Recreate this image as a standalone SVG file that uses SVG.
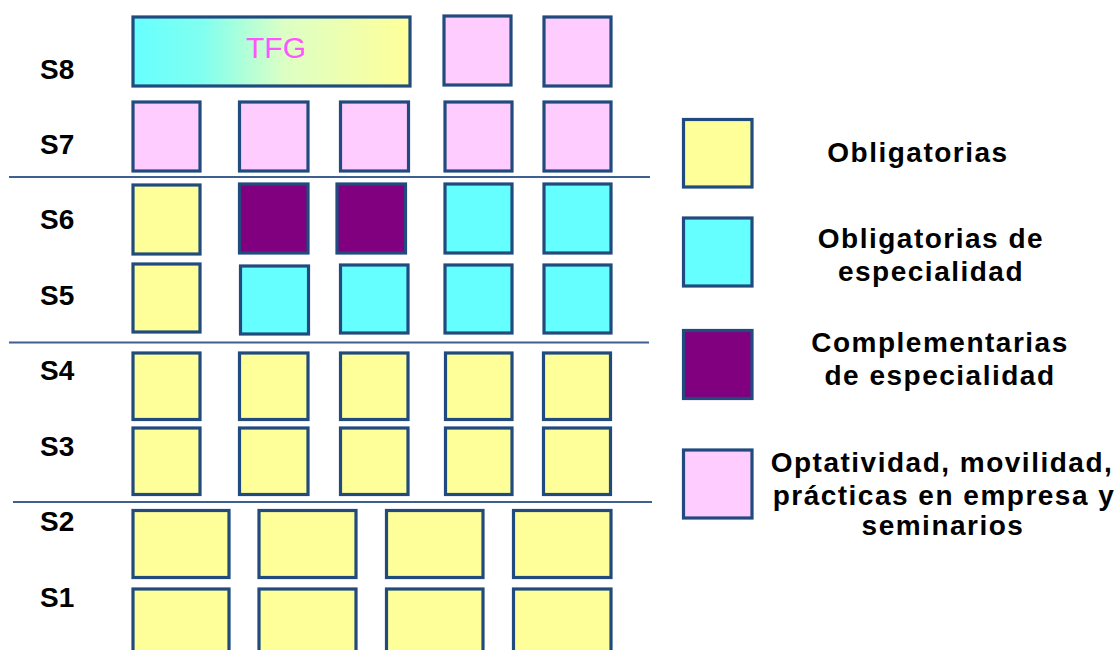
<svg xmlns="http://www.w3.org/2000/svg" width="1117" height="650" viewBox="0 0 1117 650">
<defs>
<linearGradient id="tfgGrad" x1="0" y1="0" x2="1" y2="0">
<stop offset="0" stop-color="#66FFFF"/>
<stop offset="0.25" stop-color="#80FFF0"/>
<stop offset="0.55" stop-color="#DDFFC4"/>
<stop offset="1" stop-color="#FFFF99"/>
</linearGradient>
<style>
.b{stroke:#214A7E;stroke-width:3.2}
.y{fill:#FFFF99}
.c{fill:#66FFFF}
.p{fill:#800080}
.k{fill:#FFCCFF}
.sl{font-family:"Liberation Sans",Arial,sans-serif;font-weight:bold;font-size:28px;fill:#000}
.lg{font-family:"Liberation Sans",Arial,sans-serif;font-weight:bold;font-size:28px;fill:#000;text-anchor:middle;letter-spacing:1.5px}
.sep{stroke:#3D6090;stroke-width:2.2;fill:none}
</style>
</defs>
<rect width="1117" height="650" fill="#FFFFFF"/>

<g id="separators">
<line class="sep" x1="9" y1="177" x2="650" y2="177"/>
<line class="sep" x1="9" y1="342.5" x2="649" y2="342.5"/>
<line class="sep" x1="13" y1="502" x2="652" y2="502"/>
</g>

<g id="semester-labels">
<text class="sl" x="40" y="79">S8</text>
<text class="sl" x="40" y="154">S7</text>
<text class="sl" x="40" y="229">S6</text>
<text class="sl" x="40" y="305">S5</text>
<text class="sl" x="40" y="380">S4</text>
<text class="sl" x="40" y="456">S3</text>
<text class="sl" x="40" y="531">S2</text>
<text class="sl" x="40" y="607">S1</text>
</g>

<g id="s8">
<rect class="b" x="133" y="17" width="277" height="69" fill="url(#tfgGrad)"/>
<text x="276" y="58" font-family="'Liberation Sans',Arial,sans-serif" font-size="30" fill="#FF55FF" text-anchor="middle">TFG</text>
<rect class="b k" x="444" y="16" width="67" height="69"/>
<rect class="b k" x="544" y="17" width="67" height="69"/>
</g>

<g id="s7">
<rect class="b k" x="133" y="102" width="67" height="69"/>
<rect class="b k" x="239.5" y="102" width="68.5" height="69"/>
<rect class="b k" x="340.5" y="102" width="68" height="69"/>
<rect class="b k" x="445" y="102" width="67" height="69"/>
<rect class="b k" x="544" y="102" width="67" height="69"/>
</g>

<g id="s6">
<rect class="b y" x="133" y="185" width="67" height="69"/>
<rect class="b p" x="239.5" y="184" width="68.5" height="69"/>
<rect class="b p" x="337" y="184" width="68.5" height="69"/>
<rect class="b c" x="445" y="184" width="67" height="69"/>
<rect class="b c" x="544" y="184" width="67" height="69"/>
</g>

<g id="s5">
<rect class="b y" x="133" y="264" width="67" height="68"/>
<rect class="b c" x="240.5" y="266" width="68" height="68"/>
<rect class="b c" x="340.5" y="265" width="67.5" height="68"/>
<rect class="b c" x="445" y="265" width="67" height="68"/>
<rect class="b c" x="544" y="265" width="67" height="68"/>
</g>

<g id="s4">
<rect class="b y" x="133" y="353" width="67" height="66.5"/>
<rect class="b y" x="239.5" y="353" width="68.5" height="66.5"/>
<rect class="b y" x="340.5" y="353" width="67.5" height="66.5"/>
<rect class="b y" x="445.5" y="353" width="66.5" height="66.5"/>
<rect class="b y" x="543.5" y="353" width="67" height="66.5"/>
</g>

<g id="s3">
<rect class="b y" x="133" y="428" width="67" height="66.5"/>
<rect class="b y" x="239.5" y="428" width="68.5" height="66.5"/>
<rect class="b y" x="340.5" y="428" width="67.5" height="66.5"/>
<rect class="b y" x="445.5" y="428" width="66.5" height="66.5"/>
<rect class="b y" x="543.5" y="428" width="67" height="66.5"/>
</g>

<g id="s2">
<rect class="b y" x="133" y="510.5" width="96" height="67"/>
<rect class="b y" x="259" y="510.5" width="97" height="67"/>
<rect class="b y" x="386.5" y="510.5" width="96.5" height="67"/>
<rect class="b y" x="513.5" y="510.5" width="97.5" height="67"/>
</g>

<g id="s1">
<rect class="b y" x="133" y="589" width="96" height="70"/>
<rect class="b y" x="259" y="589" width="97" height="70"/>
<rect class="b y" x="386.5" y="589" width="96.5" height="70"/>
<rect class="b y" x="513.5" y="589" width="97.5" height="70"/>
</g>

<g id="legend-obligatorias">
<rect class="b y" x="683.5" y="119.5" width="68.5" height="67.5"/>
<text class="lg" x="918" y="162">Obligatorias</text>
</g>
<g id="legend-obligatorias-especialidad">
<rect class="b c" x="683.5" y="218" width="68.5" height="68"/>
<text class="lg" x="931" y="248">Obligatorias de</text>
<text class="lg" x="931" y="281">especialidad</text>
</g>
<g id="legend-complementarias">
<rect class="b p" x="683.5" y="330.5" width="68.5" height="68"/>
<text class="lg" x="940" y="352">Complementarias</text>
<text class="lg" x="940" y="385">de especialidad</text>
</g>
<g id="legend-optatividad">
<rect class="b k" x="683.5" y="450" width="68.5" height="68"/>
<text class="lg" x="942" y="472">Optatividad, movilidad,</text>
<text class="lg" x="944" y="505">prácticas en empresa y</text>
<text class="lg" x="943" y="535">seminarios</text>
</g>
</svg>
